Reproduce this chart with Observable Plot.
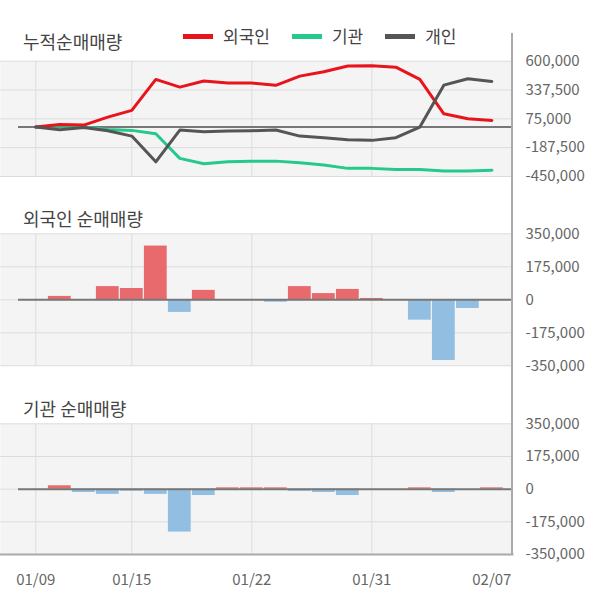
<!DOCTYPE html>
<html>
<head>
<meta charset="utf-8">
<script src="https://cdn.jsdelivr.net/npm/d3@7"></script>
<script src="https://cdn.jsdelivr.net/npm/@observablehq/plot@0.6"></script>
<style>
  html, body { margin: 0; padding: 0; background: #fff; }
  body { width: 600px; height: 604px; overflow: hidden; font-family: "Noto Sans CJK KR", "Noto Sans", sans-serif; }
  #wrap { position: relative; width: 600px; height: 604px; }
  .panel { position: absolute; left: 0; }
  .title { position: absolute; left: 23px; font-size: 18px; color: #444; line-height: 20px; white-space: nowrap; }
  #legend { position: absolute; left: 183px; top: 26px; display: flex; align-items: center; font-size: 17px; color: #444; line-height: 20px; }
  #legend .sw { width: 30px; height: 5px; margin-right: 10px; }
  #legend .item { display: flex; align-items: center; margin-right: 22px; }
  #vline { position: absolute; left: 511px; top: 33px; width: 2px; height: 522px; background: #aaa; }
</style>
</head>
<body>
<div id="wrap">
  <div class="title" style="top:31px">누적순매매량</div>
  <div id="legend"></div>
  <div class="title" style="top:208px">외국인 순매매량</div>
  <div class="title" style="top:398px">기관 순매매량</div>
  <div id="p1" class="panel" style="top:0px"></div>
  <div id="p2" class="panel" style="top:190px"></div>
  <div id="p3" class="panel" style="top:380px"></div>
  <div id="vline"></div>
</div>
<script>
// ---- data ----
const dates = ["01/09","01/10","01/13","01/14","01/15","01/16","01/17","01/20","01/21","01/22","01/23","01/28","01/29","01/30","01/31","02/03","02/04","02/05","02/06","02/07"];
const seriesNames = ["외국인", "기관", "개인"];
const seriesColors = ["#e8141b", "#25c98b", "#555555"];
const cumForeign = [0, 24000, 18000, 91000, 152000, 434000, 364000, 419000, 401000, 401000, 380000, 464000, 504000, 556000, 559000, 546000, 434000, 121000, 76000, 61000];
const cumInst = [0, 10000, 0, -21000, -30000, -61000, -285000, -334000, -316000, -310000, -310000, -325000, -346000, -376000, -376000, -386000, -386000, -401000, -401000, -392000];
const cumIndiv = [0, -24000, -3000, -33000, -82000, -316000, -27000, -43000, -36000, -33000, -26000, -82000, -97000, -115000, -121000, -97000, 0, 382000, 440000, 416000];
const netForeign = [0, 18000, 0, 70000, 60000, 285000, -67000, 50000, 0, 0, -13000, 70000, 33000, 55000, 7000, 0, -108000, -322000, -46000, 0];
const netInst = [0, 18000, -18000, -28000, -11000, -28000, -230000, -34000, 7000, 7000, 7000, -12000, -18000, -34000, 0, 0, 7000, -18000, 0, 7000];
const cumTicks = [600000, 337500, 75000, -187500, -450000];
const netTicks = [350000, 175000, 0, -175000, -350000];
const xTickIdx = [0, 4, 9, 14, 19];
const xGridIdx = [0, 4, 9, 14];

// ---- helpers ----
const xDomain = [-1.47, 19.86];
const fmt = d => (d < 0 ? "-" : "") + d3.format(",")(Math.abs(d));
const font = '"Noto Sans CJK KR", "Noto Sans", sans-serif';

function basePlot({height, marginTop, marginBottom, yDomain, yTicks, marks, xAxis}) {
  return Plot.plot({
    width: 600, height, marginLeft: 0, marginRight: 88, marginTop, marginBottom,
    style: {fontFamily: font, fontSize: "15px", color: "#666", background: "transparent", overflow: "visible"},
    x: xAxis ? {type: "linear", domain: xDomain} : {type: "linear", domain: xDomain, axis: null},
    y: {domain: yDomain, axis: null},
    marks: [
      Plot.frame({fill: "#f4f4f4", stroke: null}),
      Plot.gridY(yTicks, {stroke: "#dcdcdc", strokeOpacity: 1}),
      Plot.gridX(xGridIdx, {stroke: "#dcdcdc", strokeOpacity: 1}),
      Plot.axisY(yTicks, {anchor: "right", label: null, tickSize: 0, tickPadding: 13, tickFormat: fmt, fill: "#666", fontSize: 15}),
      xAxis ? Plot.axisX(xTickIdx, {anchor: "bottom", label: null, tickSize: 0, tickPadding: 20, tickFormat: i => dates[i], fill: "#666", fontSize: 15}) : null,
      ...marks
    ].filter(Boolean)
  });
}

// legend
const legend = document.getElementById("legend");
seriesNames.forEach((n, k) => {
  const it = document.createElement("div");
  it.className = "item";
  it.innerHTML = `<span class="sw" style="background:${seriesColors[k]}"></span><span>${n}</span>`;
  legend.appendChild(it);
});

// panel 1: cumulative lines
const lineData = [];
[cumForeign, cumInst, cumIndiv].forEach((arr, k) => arr.forEach((v, i) => lineData.push({i, v, s: seriesNames[k]})));
const zeroRule = Plot.ruleY([0], {x1: -0.72, x2: xDomain[1], stroke: "#777", strokeWidth: 2});
const drawOrder = [1, 0, 2];

document.getElementById("p1").appendChild(basePlot({
  height: 190, marginTop: 60.7, marginBottom: 14,
  yDomain: [-450000, 600000], yTicks: cumTicks,
  marks: [
    zeroRule,
    ...drawOrder.map(k => Plot.lineY(lineData.filter(d => d.s === seriesNames[k]), {x: "i", y: "v", stroke: seriesColors[k], strokeWidth: 3}))
  ]
}));

function barMarks(arr) {
  const data = arr.map((v, i) => ({i, v})).filter(d => d.v !== 0);
  return [
    Plot.rectY(data, {x1: d => d.i - 0.5, x2: d => d.i + 0.5, y1: 0, y2: "v", insetLeft: 0.6, insetRight: 0.6,
      fill: d => d.v > 0 ? "#e96a6d" : "#92bfe1"}),
    Plot.ruleY([0], {x1: -0.72, x2: xDomain[1], stroke: "#777", strokeWidth: 2})
  ];
}

document.getElementById("p2").appendChild(basePlot({
  height: 190, marginTop: 43.3, marginBottom: 14.7,
  yDomain: [-350000, 350000], yTicks: netTicks,
  marks: barMarks(netForeign)
}));

document.getElementById("p3").appendChild(basePlot({
  height: 224, marginTop: 43.3, marginBottom: 50,
  yDomain: [-350000, 350000], yTicks: netTicks, xAxis: true,
  marks: [...barMarks(netInst), Plot.frame({anchor: "bottom", stroke: "#aaa", strokeWidth: 2})]
}));
</script>
</body>
</html>
